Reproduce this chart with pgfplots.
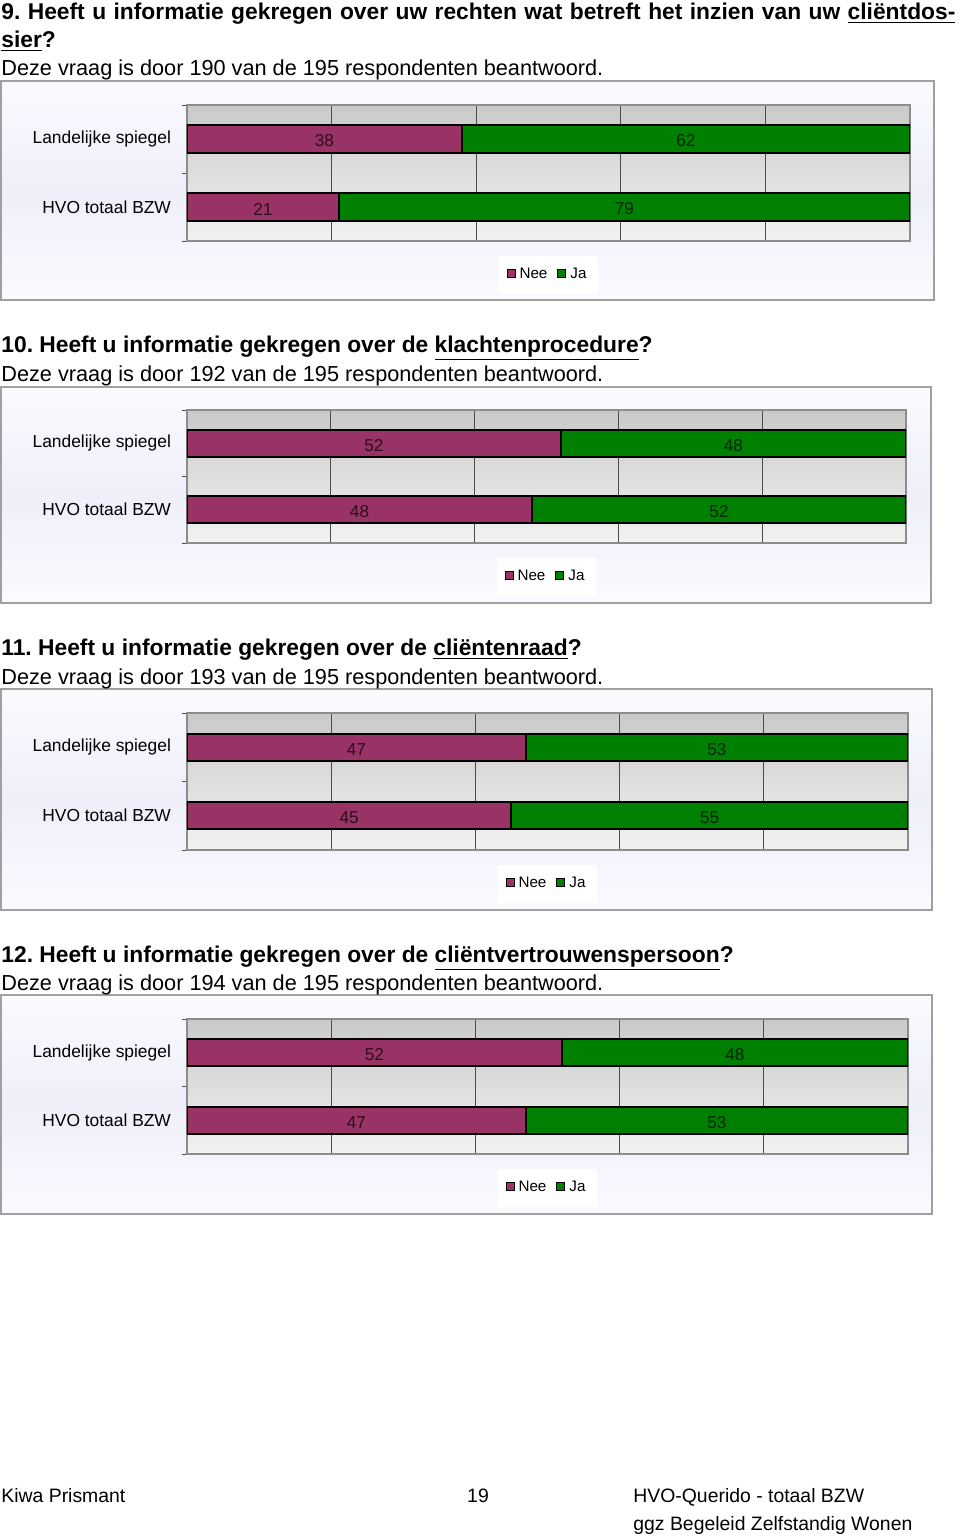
\documentclass[border=0pt]{standalone}
\usepackage{fontspec}
\setmainfont{Liberation Sans}
\usepackage{pgfplots}
\pgfplotsset{compat=1.18}
\frenchspacing
\definecolor{nee}{HTML}{993366}
\definecolor{ja}{HTML}{008000}
\definecolor{boxline}{HTML}{A0A0A0}
\definecolor{boxtop}{HTML}{FAFAFF}
\definecolor{boxmid}{HTML}{EFEFFA}
\pgfplotsset{
  panel/.style={
    xbar stacked,
    scale only axis,
    xmin=0, xmax=100, ymin=0.5, ymax=2.5,
    bar width=0.4,
    xtick={0,20,40,60,80,100},
    xticklabels={},
    xmajorgrids,
    major grid style={draw=black!70, line width=0.5pt},
    ytick={1,2},
    yticklabels={HVO totaal BZW, Landelijke spiegel},
    minor ytick={0.5,1.5,2.5},
    major tick length=0pt,
    minor tick length=2.5pt,
    tick align=outside,
    tick pos=left,
    minor tick style={draw=black!70, line width=0.5pt},
    yticklabel style={font=\fontsize{8.7}{10}\selectfont, xshift=-4.5pt},
    axis line style={draw=black!45, line width=0.8pt},
    axis background/.style={top color=black!21, bottom color=black!5},
    legend columns=2,
    legend style={at={(0.5,0)}, anchor=center, yshift=-17pt, draw=none, fill=white,
      font=\fontsize{7.6}{9}\selectfont, inner xsep=4pt, inner ysep=4pt,
      /tikz/every even column/.append style={column sep=3pt}},
    every axis plot post/.append style={
      legend image code/.code={\draw[##1, line width=0.5pt, draw=black] (0pt,-1.2pt) rectangle (4pt,2.8pt);}},
  },
  labelaxis/.style={
    scale only axis, hide axis,
    xmin=0, xmax=100, ymin=0.5, ymax=2.5,
  },
  neebar/.style={fill=nee, draw=black, line width=1pt},
  jabar/.style={fill=ja, draw=black, line width=1pt},
  vals/.style={draw=none, mark=none,
    nodes near coords, point meta=explicit symbolic,
    every node near coord/.append style={anchor=center, yshift=-1pt, font=\fontsize{8.6}{10}\selectfont,
      text=black, text opacity=0.72}},
}
\newcommand{\titlefont}{\bfseries\fontsize{11.4}{13}\selectfont}
\newcommand{\subfont}{\fontsize{10.85}{13}\selectfont}
\newcommand{\footfont}{\fontsize{9.7}{12}\selectfont}
\begin{document}
\begin{tikzpicture}[x=0.5pt, y=-0.5pt]
\path[use as bounding box] (0,0) rectangle (960,1538);
% panel boxes
\foreach \t/\b/\r in {81/300/934, 387/603/931, 689/910/932, 995/1214/932}{
  \path[top color=boxtop, bottom color=boxtop, middle color=boxmid] (1,\t) rectangle (\r,\b);
  \draw[boxline, line width=0.8pt] (1,\t) rectangle (\r,\b);
}
% titles
\node[anchor=base west, inner sep=0, font=\titlefont] at (1,19) {\makebox[477pt][s]{9. Heeft u informatie gekregen over uw rechten wat betreft het inzien van uw \underline{cliëntdos-}}};
\node[anchor=base west, inner sep=0, font=\titlefont] at (1,47) {\underline{sier}?};
\node[anchor=base west, inner sep=0, font=\subfont] at (1,75) {Deze vraag is door 190 van de 195 respondenten beantwoord.};
\node[anchor=base west, inner sep=0, font=\titlefont] at (1,352) {10. Heeft u informatie gekregen over de \underline{klachtenprocedure}?};
\node[anchor=base west, inner sep=0, font=\subfont] at (1,381) {Deze vraag is door 192 van de 195 respondenten beantwoord.};
\node[anchor=base west, inner sep=0, font=\titlefont] at (1,655) {11. Heeft u informatie gekregen over de \underline{cliëntenraad}?};
\node[anchor=base west, inner sep=0, font=\subfont] at (1,684) {Deze vraag is door 193 van de 195 respondenten beantwoord.};
\node[anchor=base west, inner sep=0, font=\titlefont] at (1,962) {12. Heeft u informatie gekregen over de \underline{cliëntvertrouwenspersoon}?};
\node[anchor=base west, inner sep=0, font=\subfont] at (1,990) {Deze vraag is door 194 van de 195 respondenten beantwoord.};
% footer
\node[anchor=base west, inner sep=0, font=\footfont] at (1,1502) {Kiwa Prismant};
\node[anchor=base, inner sep=0, font=\footfont] at (478,1502) {19};
\node[anchor=base west, inner sep=0, font=\footfont] at (633,1502) {HVO-Querido - totaal BZW};
\node[anchor=base west, inner sep=0, font=\footfont] at (633,1530) {ggz Begeleid Zelfstandig Wonen};

% ---------- Panel 9
\begin{axis}[panel, at={(93.5pt,-120.5pt)}, anchor=south west, width=361.5pt, height=68pt]
\addplot[neebar] coordinates {(21,1) (38,2)};
\addplot[jabar] coordinates {(79,1) (62,2)};
\legend{Nee, Ja}
\end{axis}
\begin{axis}[labelaxis, at={(93.5pt,-120.5pt)}, anchor=south west, width=361.5pt, height=68pt]
\addplot[vals] coordinates {(10.5,1)[21] (60.5,1)[79] (19,2)[38] (69,2)[62]};
\end{axis}

% ---------- Panel 10
\begin{axis}[panel, at={(93.5pt,-271.5pt)}, anchor=south west, width=359.5pt, height=66.5pt]
\addplot[neebar] coordinates {(48,1) (52,2)};
\addplot[jabar] coordinates {(52,1) (48,2)};
\legend{Nee, Ja}
\end{axis}
\begin{axis}[labelaxis, at={(93.5pt,-271.5pt)}, anchor=south west, width=359.5pt, height=66.5pt]
\addplot[vals] coordinates {(24,1)[48] (74,1)[52] (26,2)[52] (76,2)[48]};
\end{axis}

% ---------- Panel 11
\begin{axis}[panel, at={(93.5pt,-425pt)}, anchor=south west, width=360.5pt, height=68.5pt]
\addplot[neebar] coordinates {(45,1) (47,2)};
\addplot[jabar] coordinates {(55,1) (53,2)};
\legend{Nee, Ja}
\end{axis}
\begin{axis}[labelaxis, at={(93.5pt,-425pt)}, anchor=south west, width=360.5pt, height=68.5pt]
\addplot[vals] coordinates {(22.5,1)[45] (72.5,1)[55] (23.5,2)[47] (73.5,2)[53]};
\end{axis}

% ---------- Panel 12
\begin{axis}[panel, at={(93.5pt,-577pt)}, anchor=south west, width=360.5pt, height=67.5pt]
\addplot[neebar] coordinates {(47,1) (52,2)};
\addplot[jabar] coordinates {(53,1) (48,2)};
\legend{Nee, Ja}
\end{axis}
\begin{axis}[labelaxis, at={(93.5pt,-577pt)}, anchor=south west, width=360.5pt, height=67.5pt]
\addplot[vals] coordinates {(23.5,1)[47] (73.5,1)[53] (26,2)[52] (76,2)[48]};
\end{axis}
\end{tikzpicture}
\end{document}
